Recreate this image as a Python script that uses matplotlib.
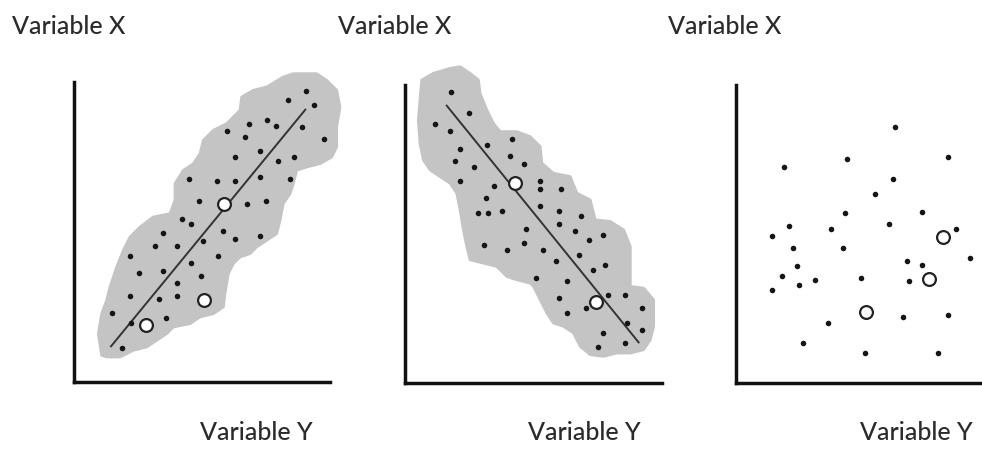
import numpy as np
import matplotlib.pyplot as plt
from matplotlib.patches import Polygon

# ---- panel 1: positive relationship ----
pos_x = [696, 643, 720, 580, 526, 606, 684, 460, 514, 751, 558, 484, 659, 612, 557,
         647, 345, 430, 484, 376, 520, 575, 325, 350, 447, 266, 557, 484, 387, 242,
         308, 169, 431, 350, 266, 194, 382, 308, 169, 254, 308, 114, 277, 172, 144]
pos_y = [873, 847, 832, 787, 775, 767, 765, 752, 735, 729, 692, 676, 676, 662, 616,
         609, 609, 602, 602, 542, 533, 543, 490, 475, 453, 446, 437, 428, 423, 409,
         409, 379, 379, 356, 334, 326, 318, 297, 257, 249, 257, 208, 192, 176, 103]
pos_open_x = [450, 390, 216]
pos_open_y = [533, 247, 172]
pos_line_x = [111, 694]
pos_line_y = [107, 817]
pos_blob_x = [83, 73, 83, 98, 108, 128, 148, 168, 198, 238, 288, 303, 303, 328, 358,
              378, 388, 418, 458, 498, 503, 538, 578, 628, 658, 728, 758, 788, 798, 788,
              788, 773, 738, 698, 668, 658, 648, 628, 618, 608, 578, 548, 528, 498, 478,
              463, 453, 448, 418, 378, 348, 298, 278, 248, 218, 178, 138, 98]
pos_blob_y = [80, 145, 205, 245, 285, 345, 395, 435, 465, 495, 505, 545, 595, 635, 655,
              685, 725, 755, 775, 815, 855, 875, 885, 915, 925, 925, 905, 875, 825, 765,
              705, 675, 655, 645, 635, 595, 565, 535, 485, 445, 425, 405, 385, 375, 355,
              325, 265, 225, 205, 195, 175, 165, 145, 125, 105, 95, 75, 75]

# ---- panel 2: negative relationship ----
neg_x = [139, 193, 91, 135, 321, 247, 165, 315, 151, 357, 206, 164, 405, 268, 405,
         467, 242, 405, 291, 219, 249, 461, 526, 461, 364, 509, 593, 552, 357, 236,
         307, 413, 520, 453, 600, 563, 392, 485, 607, 660, 461, 541, 710, 485, 665,
         709, 592, 660, 577]
neg_y = [874, 810, 778, 756, 733, 715, 703, 681, 667, 657, 650, 607, 607, 592, 584,
         584, 556, 532, 517, 510, 510, 517, 503, 479, 463, 457, 443, 428, 421, 413,
         398, 398, 384, 367, 353, 338, 314, 307, 264, 264, 256, 224, 225, 210, 180,
         160, 150, 120, 107]
neg_open_x = [329, 572]
neg_open_y = [602, 242]
neg_line_x = [125, 700]
neg_line_y = [833, 122]
neg_blob_x = [50, 85, 135, 165, 195, 220, 225, 245, 265, 285, 335, 375, 405, 410, 445,
              495, 515, 555, 570, 615, 655, 675, 675, 675, 715, 745, 745, 735, 715, 675,
              635, 595, 555, 525, 505, 475, 445, 425, 405, 385, 375, 335, 305, 275, 235,
              195, 185, 175, 165, 155, 135, 105, 75, 55, 45, 40, 45]
neg_blob_y = [910, 930, 945, 950, 930, 910, 870, 820, 780, 755, 755, 740, 710, 660, 630,
              620, 570, 550, 490, 485, 460, 410, 350, 290, 285, 250, 170, 130, 100, 90,
              90, 80, 85, 110, 150, 170, 180, 210, 250, 290, 300, 310, 320, 350, 360,
              370, 410, 460, 520, 570, 600, 620, 640, 670, 720, 790, 850]

# ---- panel 3: no relationship ----
none_x = [478, 145, 334, 636, 472, 418, 327, 557, 460, 158, 284, 108, 660, 170, 321,
          702, 513, 557, 182, 139, 236, 376, 519, 188, 108, 636, 502, 277, 200, 387, 606]
none_y = [770, 650, 674, 680, 613, 568, 510, 515, 479, 472, 464, 442, 464, 404, 404,
          375, 367, 353, 352, 322, 308, 314, 307, 293, 278, 203, 197, 180, 120, 90, 90]
none_open_x = [620, 578, 389]
none_open_y = [438, 312, 214]

label_x = "Variable X"
label_y = "Variable Y"

W, H = 982, 449
fig = plt.figure(figsize=(W / 100, H / 100), dpi=100)

# axes boxes in pixels: left, top, width, height
boxes = [(74, 82, 256, 300), (405, 85, 257, 298), (736, 85, 256, 298)]
limits = [(768, 900), (770, 895), (768, 895)]

BLOB = "#c4c4c4"
DOT = "#151515"
LINE = "#333333"

panels = [
    dict(x=pos_x, y=pos_y, ox=pos_open_x, oy=pos_open_y,
         lx=pos_line_x, ly=pos_line_y, bx=pos_blob_x, by=pos_blob_y),
    dict(x=neg_x, y=neg_y, ox=neg_open_x, oy=neg_open_y,
         lx=neg_line_x, ly=neg_line_y, bx=neg_blob_x, by=neg_blob_y),
    dict(x=none_x, y=none_y, ox=none_open_x, oy=none_open_y),
]

for (left, top, w, h), (xm, ym), p in zip(boxes, limits, panels):
    ax = fig.add_axes([left / W, (H - top - h) / H, w / W, h / H])
    ax.set_xlim(0, xm)
    ax.set_ylim(0, ym)
    for side in ["top", "right"]:
        ax.spines[side].set_visible(False)
    for side in ["left", "bottom"]:
        ax.spines[side].set_linewidth(2.5)
        ax.spines[side].set_color("#111111")
    ax.set_xticks([])
    ax.set_yticks([])

    if "bx" in p:
        blob = Polygon(np.column_stack([p["bx"], p["by"]]), closed=True,
                       facecolor=BLOB, edgecolor=BLOB, linewidth=2,
                       joinstyle="round", clip_on=False, zorder=1)
        ax.add_patch(blob)
        ax.plot(p["lx"], p["ly"], color=LINE, linewidth=1.4, zorder=2,
                clip_on=False)

    ax.scatter(p["x"], p["y"], s=16, color=DOT, linewidths=0, zorder=3,
               clip_on=False)
    ax.scatter(p["ox"], p["oy"], s=85, facecolor="white", edgecolor="#222222",
               linewidths=1.6, zorder=4, clip_on=False)

font = dict(family=["Lato", "DejaVu Sans"], size=18, weight="medium",
            color="#2b2b2b")
for px in [12, 338, 668]:
    fig.text(px / W, 1 - 27 / H, label_x, ha="left", va="center", **font)
for px in [200, 528, 860]:
    fig.text(px / W, 1 - 433 / H, label_y, ha="left", va="center", **font)

fig.savefig("out.png", dpi=100)
